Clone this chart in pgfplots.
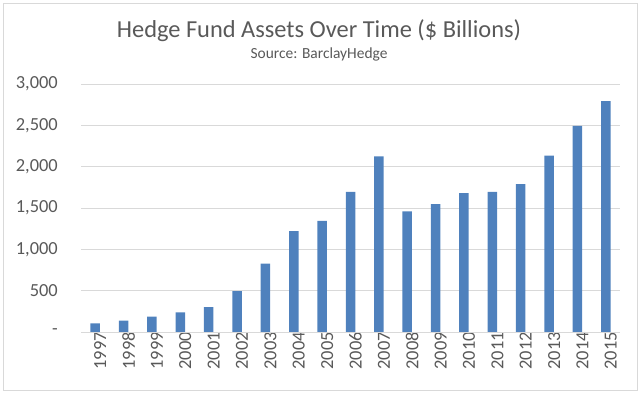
\documentclass[border=0pt]{standalone}
\usepackage{pgfplots}
\pgfplotsset{compat=1.18}
\usepackage{fontspec}
\setmainfont{Carlito}
\definecolor{barblue}{HTML}{4F81BD}
\definecolor{txtgray}{HTML}{595959}
\definecolor{gridgray}{HTML}{D9D9D9}
\begin{document}
\begin{tikzpicture}[x=1bp,y=1bp]
\path (0,0) rectangle (640,395);
\draw[gridgray, line width=0.8bp] (3,5) rectangle (637,392);
\node[txtgray, anchor=base, font=\fontsize{24.5}{28}\selectfont] at (319,358) {Hedge Fund Assets Over Time (\$ Billions)};
\node[txtgray, anchor=base, font=\fontsize{15.5}{18}\selectfont] at (319,336.5) {Source: BarclayHedge};
\begin{axis}[
  at={(81bp,63bp)}, anchor=south west,
  scale only axis, width=539bp, height=248bp,
  xmin=-0.5, xmax=18.5, ymin=0, ymax=3000,
  axis line style={draw=none},
  ytick={0,500,1000,1500,2000,2500,3000},
  yticklabels={-,500,{1,000},{1,500},{2,000},{2,500},{3,000}},
  ymajorgrids, grid style={gridgray, line width=0.8bp},
  xtick={0,...,18},
  xticklabels={1997,1998,1999,2000,2001,2002,2003,2004,2005,2006,2007,2008,2009,2010,2011,2012,2013,2014,2015},
  major tick length=0pt,
  tick label style={txtgray, font=\fontsize{18.5}{20}\selectfont},
  xticklabel style={rotate=90, anchor=east, inner sep=0pt, yshift=-5bp},
  yticklabel style={anchor=east, inner sep=0pt, xshift=-23bp},
  ybar, bar width=9.5bp,
  clip=false,
]
\addplot[fill=barblue, draw=none] coordinates {
(0,105) (1,138) (2,186) (3,238) (4,302) (5,496) (6,827) (7,1220) (8,1345)
(9,1694) (10,2125) (11,1460) (12,1548) (13,1681) (14,1694) (15,1790)
(16,2134) (17,2492) (18,2794)};
\draw[gridgray, line width=0.8bp] (axis cs:-0.5,0) -- (axis cs:18.5,0);
\end{axis}
\end{tikzpicture}
\end{document}
